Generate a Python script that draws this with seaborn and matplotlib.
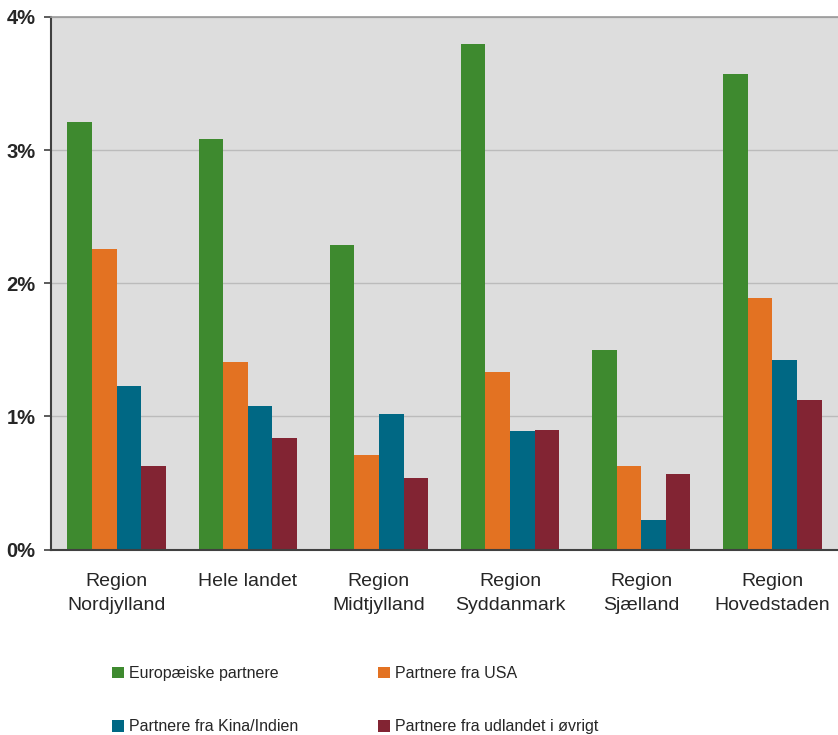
import matplotlib as mpl
mpl.use('Agg')
import matplotlib.pyplot as plt
import pandas as pd
import seaborn as sns

# kategorier og serier (andel i procent)
regions = ['Region\nNordjylland', 'Hele landet', 'Region\nMidtjylland',
           'Region\nSyddanmark', 'Region\nSjælland', 'Region\nHovedstaden']
series = ['Europæiske partnere', 'Partnere fra USA',
          'Partnere fra Kina/Indien', 'Partnere fra udlandet i øvrigt']
europa = [3.21, 3.08, 2.29, 3.80, 1.50, 3.57]
usa = [2.26, 1.41, 0.71, 1.33, 0.63, 1.89]
kina = [1.23, 1.08, 1.02, 0.89, 0.22, 1.42]
oevrigt = [0.63, 0.84, 0.54, 0.90, 0.57, 1.12]
yticks = [0, 1, 2, 3, 4]
ytick_labels = ['0%', '1%', '2%', '3%', '4%']
colors = ['#3E8A2F', '#E37222', '#006884', '#822433']

sns.set_style('white')
plt.rcParams['font.family'] = ['Liberation Sans', 'DejaVu Sans']

#long form table for seaborn
rows = []
for name, vals in zip(series, [europa, usa, kina, oevrigt]):
	for reg, v in zip(regions, vals):
		rows.append({'region': reg, 'serie': name, 'value': v})
df = pd.DataFrame(rows)

fig = plt.figure(figsize=(8.38, 7.35), dpi=100)
ax = fig.add_axes([51/838, 1 - 549.5/735, 787/838, 532.5/735])
ax.set_facecolor('#DDDDDD')

sns.barplot(data=df, x='region', y='value', hue='serie', order=regions,
	hue_order=series, palette=colors, width=0.75, gap=0, saturation=1,
	linewidth=0, ax=ax)
handles, labels = ax.get_legend_handles_labels()
ax.get_legend().remove()

ax.set_xlim(-0.5, 5.5)
ax.set_ylim(0, 4)
ax.set_yticks(yticks)
ax.set_yticklabels(ytick_labels, fontsize=14.5, fontweight='bold')
ax.yaxis.grid(True, color='#BBBBBB', lw=1)
ax.set_axisbelow(True)
ax.set_xlabel('')
ax.set_ylabel('')

#ticks between the groups, labels in the middle
ax.set_xticks([i - 0.5 for i in range(7)], minor=True)
ax.tick_params(axis='x', which='major', length=0, pad=17, labelsize=14)
ax.tick_params(axis='x', which='minor', length=6, width=1.2, color='#404040', direction='out')
ax.tick_params(axis='y', length=5, width=1.2, color='#404040', pad=6, left=True)
for t in ax.get_xticklabels():
	t.set_linespacing(1.55)

for side in ['left', 'bottom']:
	ax.spines[side].set_color('#404040')
	ax.spines[side].set_linewidth(1.5)
ax.spines['top'].set_color('#999999')
ax.spines['top'].set_linewidth(1.2)
ax.spines['right'].set_visible(False)

#legend reads row by row: europa, usa / kina, oevrigt
order = [0, 2, 1, 3]
fig.legend([handles[i] for i in order], [labels[i] for i in order],
	loc='upper left', bbox_to_anchor=(112/838, 1 - 666/735),
	ncol=2, frameon=False, fontsize=11.5, handlelength=0.75, handleheight=0.75,
	handletextpad=0.3, columnspacing=5.0, labelspacing=2.4, borderpad=0,
	borderaxespad=0)

plt.savefig('out.png', dpi=100)
